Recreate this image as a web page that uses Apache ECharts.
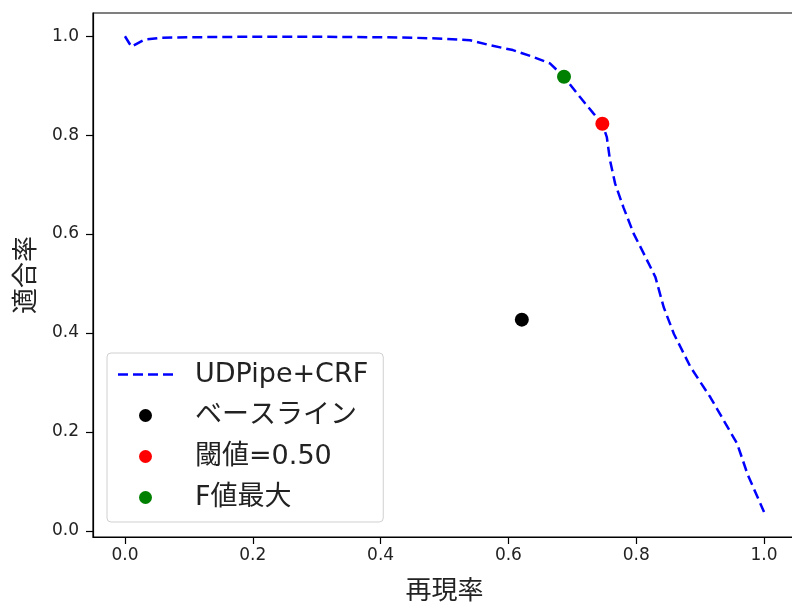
<!DOCTYPE html>
<html>
<head>
<meta charset="utf-8">
<script src="https://cdn.jsdelivr.net/npm/echarts@6/dist/echarts.min.js"></script>
<style>
html,body{margin:0;padding:0;background:#fff;}
#chart{width:792px;height:602px;}
</style>
</head>
<body>
<div id="chart"></div>
<script>
// ---- data ----
const recall = [0.0, 0.01, 0.03, 0.057, 0.1, 0.2, 0.3, 0.4, 0.45, 0.5, 0.54, 0.571, 0.607, 0.639, 0.665, 0.687, 0.712, 0.733, 0.747, 0.754, 0.759, 0.767, 0.780, 0.796, 0.812, 0.830, 0.843, 0.859, 0.885, 0.916, 0.937, 0.958, 0.974, 1.0];
const precision = [1.0, 0.979, 0.993, 0.997, 0.998, 0.999, 0.999, 0.998, 0.997, 0.995, 0.992, 0.982, 0.972, 0.958, 0.945, 0.918, 0.877, 0.844, 0.823, 0.796, 0.749, 0.702, 0.654, 0.601, 0.560, 0.513, 0.452, 0.398, 0.331, 0.270, 0.223, 0.176, 0.115, 0.038];
const baselinePoint = [0.621, 0.427];
const thresholdPoint = [0.747, 0.823];
const bestFPoint = [0.687, 0.918];
const seriesNames = ['UDPipe+CRF', 'ベースライン', '閾値=0.50', 'F値最大'];
const xTicks = [0.0, 0.2, 0.4, 0.6, 0.8, 1.0];
const yTicks = [0.0, 0.2, 0.4, 0.6, 0.8, 1.0];
const xTitle = '再現率';
const yTitle = '適合率';

const mixFont = '"DejaVu Sans", "Noto Sans CJK JP", sans-serif';
const tickFont = '"DejaVu Sans", sans-serif';
const dashIcon = 'path://M0,0h10v2.5h-10z M15,0h10v2.5h-10z M30,0h10v2.5h-10z M45,0h10v2.5h-10z';

const chart = echarts.init(document.getElementById('chart'), null, {renderer: 'canvas'});
const curve = recall.map((r, i) => [r, precision[i]]);

chart.setOption({
  animation: false,
  backgroundColor: '#ffffff',
  grid: {
    left: 93, right: -4, top: 13, bottom: 65,
    containLabel: false, outerBoundsMode: 'none',
    show: true, borderColor: '#000', borderWidth: 1.2, backgroundColor: 'transparent'
  },
  xAxis: {
    type: 'value', min: -0.05, max: 1.05,
    name: xTitle, nameLocation: 'middle', nameGap: 42,
    nameTextStyle: {fontFamily: mixFont, fontSize: 26, color: '#222'},
    axisLine: {show: true, onZero: false, lineStyle: {color: '#000', width: 1.2}},
    axisTick: {show: true, length: 7, customValues: xTicks, lineStyle: {color: '#000', width: 1.2}},
    axisLabel: {customValues: xTicks, fontFamily: tickFont, fontSize: 17, color: '#222', margin: 10,
      formatter: v => v.toFixed(1)},
    splitLine: {show: false}
  },
  yAxis: {
    type: 'value', min: -0.0125, max: 1.047,
    name: yTitle, nameLocation: 'middle', nameGap: 53, nameRotate: 90,
    nameTextStyle: {fontFamily: mixFont, fontSize: 26, color: '#222'},
    axisLine: {show: true, onZero: false, lineStyle: {color: '#000', width: 1.2}},
    axisTick: {show: true, length: 7, customValues: yTicks, lineStyle: {color: '#000', width: 1.2}},
    axisLabel: {customValues: yTicks, fontFamily: tickFont, fontSize: 17, color: '#222', margin: 14,
      formatter: v => v.toFixed(1)},
    splitLine: {show: false}
  },
  legend: {
    orient: 'vertical', left: 107, top: 353,
    data: [
      {name: seriesNames[0], icon: dashIcon},
      {name: seriesNames[1], icon: 'circle'},
      {name: seriesNames[2], icon: 'circle'},
      {name: seriesNames[3], icon: 'circle'}
    ],
    itemWidth: 55, itemHeight: 13, itemGap: 14,
    padding: [8, 15, 11, 11],
    borderColor: '#d0d0d0', borderWidth: 1, borderRadius: 4,
    backgroundColor: 'rgba(255,255,255,0.85)',
    textStyle: {fontFamily: mixFont, fontSize: 27, color: '#222', padding: [0, 0, 0, 17]}
  },
  series: [
    {
      name: seriesNames[0], type: 'line', data: curve, showSymbol: false, symbol: 'none',
      lineStyle: {color: '#0000ff', width: 2.5, type: [10, 5]},
      itemStyle: {color: '#0000ff'}, z: 2
    },
    {
      name: seriesNames[1], type: 'scatter', data: [baselinePoint], symbolSize: 14,
      itemStyle: {color: '#000000', opacity: 1}, z: 3
    },
    {
      name: seriesNames[2], type: 'scatter', data: [thresholdPoint], symbolSize: 14,
      itemStyle: {color: '#ff0000', opacity: 1}, z: 3
    },
    {
      name: seriesNames[3], type: 'scatter', data: [bestFPoint], symbolSize: 14,
      itemStyle: {color: '#008000', opacity: 1}, z: 3
    }
  ]
});
</script>
</body>
</html>
